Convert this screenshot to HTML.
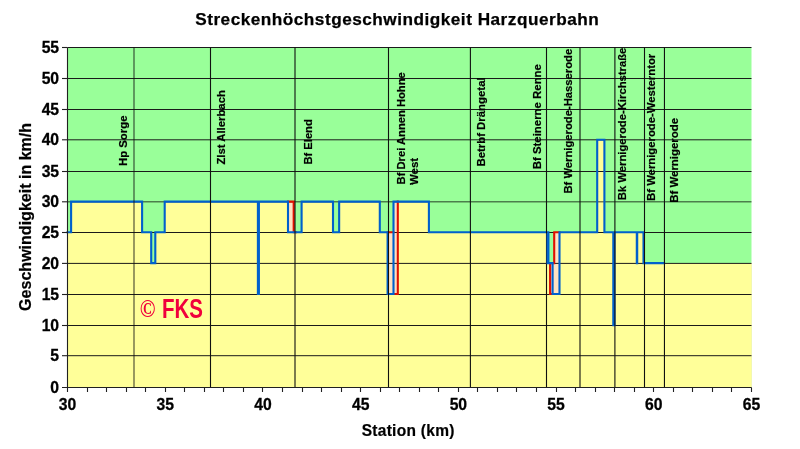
<!DOCTYPE html>
<html><head><meta charset="utf-8"><style>
html,body{margin:0;padding:0;background:#fff;width:800px;height:449px;overflow:hidden;}
svg{display:block;will-change:transform;}
</style></head><body>
<svg width="800" height="449" viewBox="0 0 800 449">
<rect x="0" y="0" width="800" height="449" fill="#ffffff"/>
<rect x="67.50" y="47.50" width="684.00" height="340.00" fill="#99ff99"/>
<path d="M67.50 387.50 L67.50 232.30 L71.10 232.30 L71.10 201.60 L142.10 201.60 L142.10 232.30 L151.20 232.30 L151.20 263.10 L155.30 263.10 L155.30 232.30 L164.70 232.30 L164.70 201.60 L257.90 201.60 L257.90 294.00 L258.90 294.00 L258.90 201.60 L288.00 201.60 L288.00 201.60 L293.70 201.60 L293.70 232.30 L301.60 232.30 L301.60 201.60 L333.00 201.60 L333.00 232.30 L339.15 232.30 L339.15 201.60 L379.80 201.60 L379.80 232.30 L387.60 232.30 L387.60 232.30 L393.50 232.30 L393.50 201.60 L397.80 201.60 L397.80 201.60 L428.90 201.60 L428.90 232.30 L548.40 232.30 L548.40 263.10 L550.10 263.10 L550.10 263.10 L552.60 263.10 L552.60 263.10 L554.20 263.10 L554.20 232.30 L559.50 232.30 L559.50 232.30 L597.20 232.30 L597.20 139.80 L604.40 139.80 L604.40 232.30 L613.30 232.30 L613.30 325.30 L614.50 325.30 L614.50 232.30 L636.80 232.30 L636.80 263.10 L637.20 263.10 L637.20 232.30 L643.50 232.30 L643.50 263.10 L751.50 263.10 L751.50 387.50 Z" fill="#ffe2c2"/>
<path d="M67.50 387.50 L67.50 232.30 L71.10 232.30 L71.10 201.60 L142.10 201.60 L142.10 232.30 L151.20 232.30 L151.20 263.10 L155.30 263.10 L155.30 232.30 L164.70 232.30 L164.70 201.60 L257.90 201.60 L257.90 294.00 L258.90 294.00 L258.90 201.60 L288.00 201.60 L288.00 232.30 L293.70 232.30 L293.70 232.30 L301.60 232.30 L301.60 201.60 L333.00 201.60 L333.00 232.30 L339.15 232.30 L339.15 201.60 L379.80 201.60 L379.80 232.30 L387.60 232.30 L387.60 294.00 L393.50 294.00 L393.50 294.00 L397.80 294.00 L397.80 201.60 L428.90 201.60 L428.90 232.30 L548.40 232.30 L548.40 263.10 L550.10 263.10 L550.10 294.00 L552.60 294.00 L552.60 294.00 L554.20 294.00 L554.20 294.00 L559.50 294.00 L559.50 232.30 L597.20 232.30 L597.20 139.80 L604.40 139.80 L604.40 232.30 L613.30 232.30 L613.30 325.30 L614.50 325.30 L614.50 232.30 L636.80 232.30 L636.80 263.10 L637.20 263.10 L637.20 232.30 L643.50 232.30 L643.50 263.10 L751.50 263.10 L751.50 387.50 Z" fill="#ffff99"/>
<g stroke="#1a1a1a" stroke-width="1.0"><line x1="67.50" y1="355.70" x2="751.50" y2="355.70"/><line x1="67.50" y1="325.50" x2="751.50" y2="325.50"/><line x1="67.50" y1="294.50" x2="751.50" y2="294.50"/><line x1="67.50" y1="263.40" x2="751.50" y2="263.40"/><line x1="67.50" y1="232.50" x2="751.50" y2="232.50"/><line x1="67.50" y1="171.50" x2="751.50" y2="171.50"/><line x1="67.50" y1="139.80" x2="751.50" y2="139.80"/><line x1="67.50" y1="109.50" x2="751.50" y2="109.50"/><line x1="67.50" y1="78.50" x2="751.50" y2="78.50"/><line x1="67.50" y1="47.50" x2="751.50" y2="47.50"/></g>
<line x1="67.50" y1="201.80" x2="751.50" y2="201.80" stroke="#000" stroke-opacity="0.5" stroke-width="1.6"/>
<g font-family="Liberation Sans, sans-serif" font-weight="bold" font-size="11.4" fill="#000" stroke="#000" stroke-width="0.2"><text transform="translate(127.10 166.10) rotate(-90)" font-size="11.40">Hp Sorge</text><text transform="translate(224.90 164.60) rotate(-90)" font-size="11.34">Zlst Allerbach</text><text transform="translate(311.90 164.60) rotate(-90)" font-size="11.19">Bf Elend</text><text transform="translate(404.80 184.40) rotate(-90)" font-size="11.20">Bf Drei Annen Hohne</text><text transform="translate(418.10 185.00) rotate(-90)" font-size="11.44">West</text><text transform="translate(485.30 166.60) rotate(-90)" font-size="11.40">Betrbf Drängetal</text><text transform="translate(541.40 169.30) rotate(-90)" font-size="11.41">Bf Steinerne Renne</text><text transform="translate(572.40 193.60) rotate(-90)" font-size="11.25">Bf Wernigerode-Hasserode</text><text transform="translate(626.40 200.20) rotate(-90)" font-size="11.27">Bk Wernigerode-Kirchstraße</text><text transform="translate(655.40 200.90) rotate(-90)" font-size="11.31">Bf Wernigerode-Westerntor</text><text transform="translate(677.80 202.80) rotate(-90)" font-size="11.45">Bf Wernigerode</text></g>
<path d="M288.00 201.60 H293.70 V232.30 H296.00 M387.60 232.30 H393.50 M393.50 294.00 H397.80 V201.60 M550.10 263.10 V294.00 H552.60 M552.60 263.10 H554.20 V232.30 H559.50" fill="none" stroke="#e01000" stroke-width="2.1" stroke-linejoin="miter" stroke-linecap="square"/>
<path d="M67.50 232.30 H71.10 V201.60 H142.10 V232.30 H151.20 V263.10 H155.30 V232.30 H164.70 V201.60 H257.90 V294.00 H258.90 V201.60 H288.00 V232.30 H301.60 V201.60 H333.00 V232.30 H339.15 V201.60 H379.80 V232.30 H387.60 V294.00 H393.50 V201.60 H428.90 V232.30 H548.40 V263.10 H552.60 V294.00 H559.50 V232.30 H597.20 V139.80 H604.40 V232.30 H613.30 V325.30 H614.50 V232.30 H636.80 V263.10 H637.20 V232.30 H643.50 V263.10 H664.10" fill="none" stroke="#0060cc" stroke-width="2.1" stroke-linejoin="miter" stroke-linecap="square"/>
<g stroke="#101010" stroke-width="1.1"><line x1="134.00" y1="47.50" x2="134.00" y2="387.50" stroke-opacity="0.78"/><line x1="210.50" y1="47.50" x2="210.50" y2="387.50"/><line x1="295.00" y1="47.50" x2="295.00" y2="387.50"/><line x1="388.50" y1="47.50" x2="388.50" y2="387.50"/><line x1="470.40" y1="47.50" x2="470.40" y2="387.50"/><line x1="546.50" y1="47.50" x2="546.50" y2="387.50"/><line x1="580.00" y1="47.50" x2="580.00" y2="387.50"/><line x1="614.90" y1="47.50" x2="614.90" y2="387.50"/><line x1="644.50" y1="47.50" x2="644.50" y2="387.50"/><line x1="664.45" y1="47.50" x2="664.45" y2="387.50"/></g>
<rect x="546.5" y="233.30" width="1.4" height="30.80" fill="#0060cc"/>
<g stroke="#202020" stroke-width="1.1"><line x1="67.50" y1="47.50" x2="67.50" y2="392.00"/><line x1="62" y1="387.50" x2="751.50" y2="387.50"/><line x1="62" y1="355.70" x2="67.50" y2="355.70"/><line x1="62" y1="325.50" x2="67.50" y2="325.50"/><line x1="62" y1="294.50" x2="67.50" y2="294.50"/><line x1="62" y1="263.40" x2="67.50" y2="263.40"/><line x1="62" y1="232.50" x2="67.50" y2="232.50"/><line x1="62" y1="201.80" x2="67.50" y2="201.80"/><line x1="62" y1="171.50" x2="67.50" y2="171.50"/><line x1="62" y1="139.80" x2="67.50" y2="139.80"/><line x1="62" y1="109.50" x2="67.50" y2="109.50"/><line x1="62" y1="78.50" x2="67.50" y2="78.50"/><line x1="62" y1="47.50" x2="67.50" y2="47.50"/><line x1="87.50" y1="387.50" x2="87.50" y2="392.00"/><line x1="106.50" y1="387.50" x2="106.50" y2="392.00"/><line x1="126.50" y1="387.50" x2="126.50" y2="392.00"/><line x1="145.50" y1="387.50" x2="145.50" y2="392.00"/><line x1="165.50" y1="387.50" x2="165.50" y2="392.00"/><line x1="184.50" y1="387.50" x2="184.50" y2="392.00"/><line x1="204.50" y1="387.50" x2="204.50" y2="392.00"/><line x1="223.50" y1="387.50" x2="223.50" y2="392.00"/><line x1="243.50" y1="387.50" x2="243.50" y2="392.00"/><line x1="262.50" y1="387.50" x2="262.50" y2="392.00"/><line x1="282.50" y1="387.50" x2="282.50" y2="392.00"/><line x1="302.50" y1="387.50" x2="302.50" y2="392.00"/><line x1="321.50" y1="387.50" x2="321.50" y2="392.00"/><line x1="341.50" y1="387.50" x2="341.50" y2="392.00"/><line x1="360.50" y1="387.50" x2="360.50" y2="392.00"/><line x1="380.50" y1="387.50" x2="380.50" y2="392.00"/><line x1="399.50" y1="387.50" x2="399.50" y2="392.00"/><line x1="419.50" y1="387.50" x2="419.50" y2="392.00"/><line x1="438.50" y1="387.50" x2="438.50" y2="392.00"/><line x1="458.50" y1="387.50" x2="458.50" y2="392.00"/><line x1="477.50" y1="387.50" x2="477.50" y2="392.00"/><line x1="497.50" y1="387.50" x2="497.50" y2="392.00"/><line x1="516.50" y1="387.50" x2="516.50" y2="392.00"/><line x1="536.50" y1="387.50" x2="536.50" y2="392.00"/><line x1="556.50" y1="387.50" x2="556.50" y2="392.00"/><line x1="575.50" y1="387.50" x2="575.50" y2="392.00"/><line x1="595.50" y1="387.50" x2="595.50" y2="392.00"/><line x1="614.50" y1="387.50" x2="614.50" y2="392.00"/><line x1="634.50" y1="387.50" x2="634.50" y2="392.00"/><line x1="653.50" y1="387.50" x2="653.50" y2="392.00"/><line x1="673.50" y1="387.50" x2="673.50" y2="392.00"/><line x1="692.50" y1="387.50" x2="692.50" y2="392.00"/><line x1="712.50" y1="387.50" x2="712.50" y2="392.00"/><line x1="731.50" y1="387.50" x2="731.50" y2="392.00"/><line x1="751.50" y1="387.50" x2="751.50" y2="392.00"/></g>
<g font-family="Liberation Sans, sans-serif" font-weight="bold" font-size="16.8" fill="#000" stroke="#000" stroke-width="0.3" text-anchor="end"><text transform="translate(59.1 392.70) scale(0.935 1)">0</text><text transform="translate(59.1 360.90) scale(0.935 1)">5</text><text transform="translate(59.1 330.70) scale(0.935 1)">10</text><text transform="translate(59.1 299.70) scale(0.935 1)">15</text><text transform="translate(59.1 268.60) scale(0.935 1)">20</text><text transform="translate(59.1 237.70) scale(0.935 1)">25</text><text transform="translate(59.1 207.00) scale(0.935 1)">30</text><text transform="translate(59.1 176.70) scale(0.935 1)">35</text><text transform="translate(59.1 145.00) scale(0.935 1)">40</text><text transform="translate(59.1 114.70) scale(0.935 1)">45</text><text transform="translate(59.1 83.70) scale(0.935 1)">50</text><text transform="translate(59.1 52.70) scale(0.935 1)">55</text></g>
<g font-family="Liberation Sans, sans-serif" font-weight="bold" font-size="16.8" fill="#000" stroke="#000" stroke-width="0.3" text-anchor="middle"><text transform="translate(67.50 409.6) scale(0.935 1)">30</text><text transform="translate(165.21 409.6) scale(0.935 1)">35</text><text transform="translate(262.93 409.6) scale(0.935 1)">40</text><text transform="translate(360.64 409.6) scale(0.935 1)">45</text><text transform="translate(458.36 409.6) scale(0.935 1)">50</text><text transform="translate(556.07 409.6) scale(0.935 1)">55</text><text transform="translate(653.79 409.6) scale(0.935 1)">60</text><text transform="translate(751.50 409.6) scale(0.935 1)">65</text></g>
<text x="397.2" y="25.4" font-family="Liberation Sans, sans-serif" font-weight="bold" font-size="17.2" letter-spacing="0.5" stroke="#000" stroke-width="0.25" text-anchor="middle" fill="#000">Streckenhöchstgeschwindigkeit Harzquerbahn</text>
<text transform="translate(408.2 435.9) scale(0.97 1)" font-family="Liberation Sans, sans-serif" font-weight="bold" font-size="16" letter-spacing="0.3" stroke="#000" stroke-width="0.2" text-anchor="middle" fill="#000">Station (km)</text>
<text transform="translate(31.2 216.9) rotate(-90)" font-family="Liberation Sans, sans-serif" font-weight="bold" font-size="16.05" stroke="#000" stroke-width="0.2" text-anchor="middle" fill="#000">Geschwindigkeit in km/h</text>
<text transform="translate(139.8 317.3) scale(0.84 1)" font-family="Liberation Serif, serif" font-weight="bold" font-size="25" fill="#f0003c">©</text>
<g transform="translate(162 317.8) scale(0.76 1)"><text x="0" y="0" font-family="Liberation Sans, sans-serif" font-weight="bold" font-size="27" fill="#f0003c">FKS</text></g>
</svg>
</body></html>
